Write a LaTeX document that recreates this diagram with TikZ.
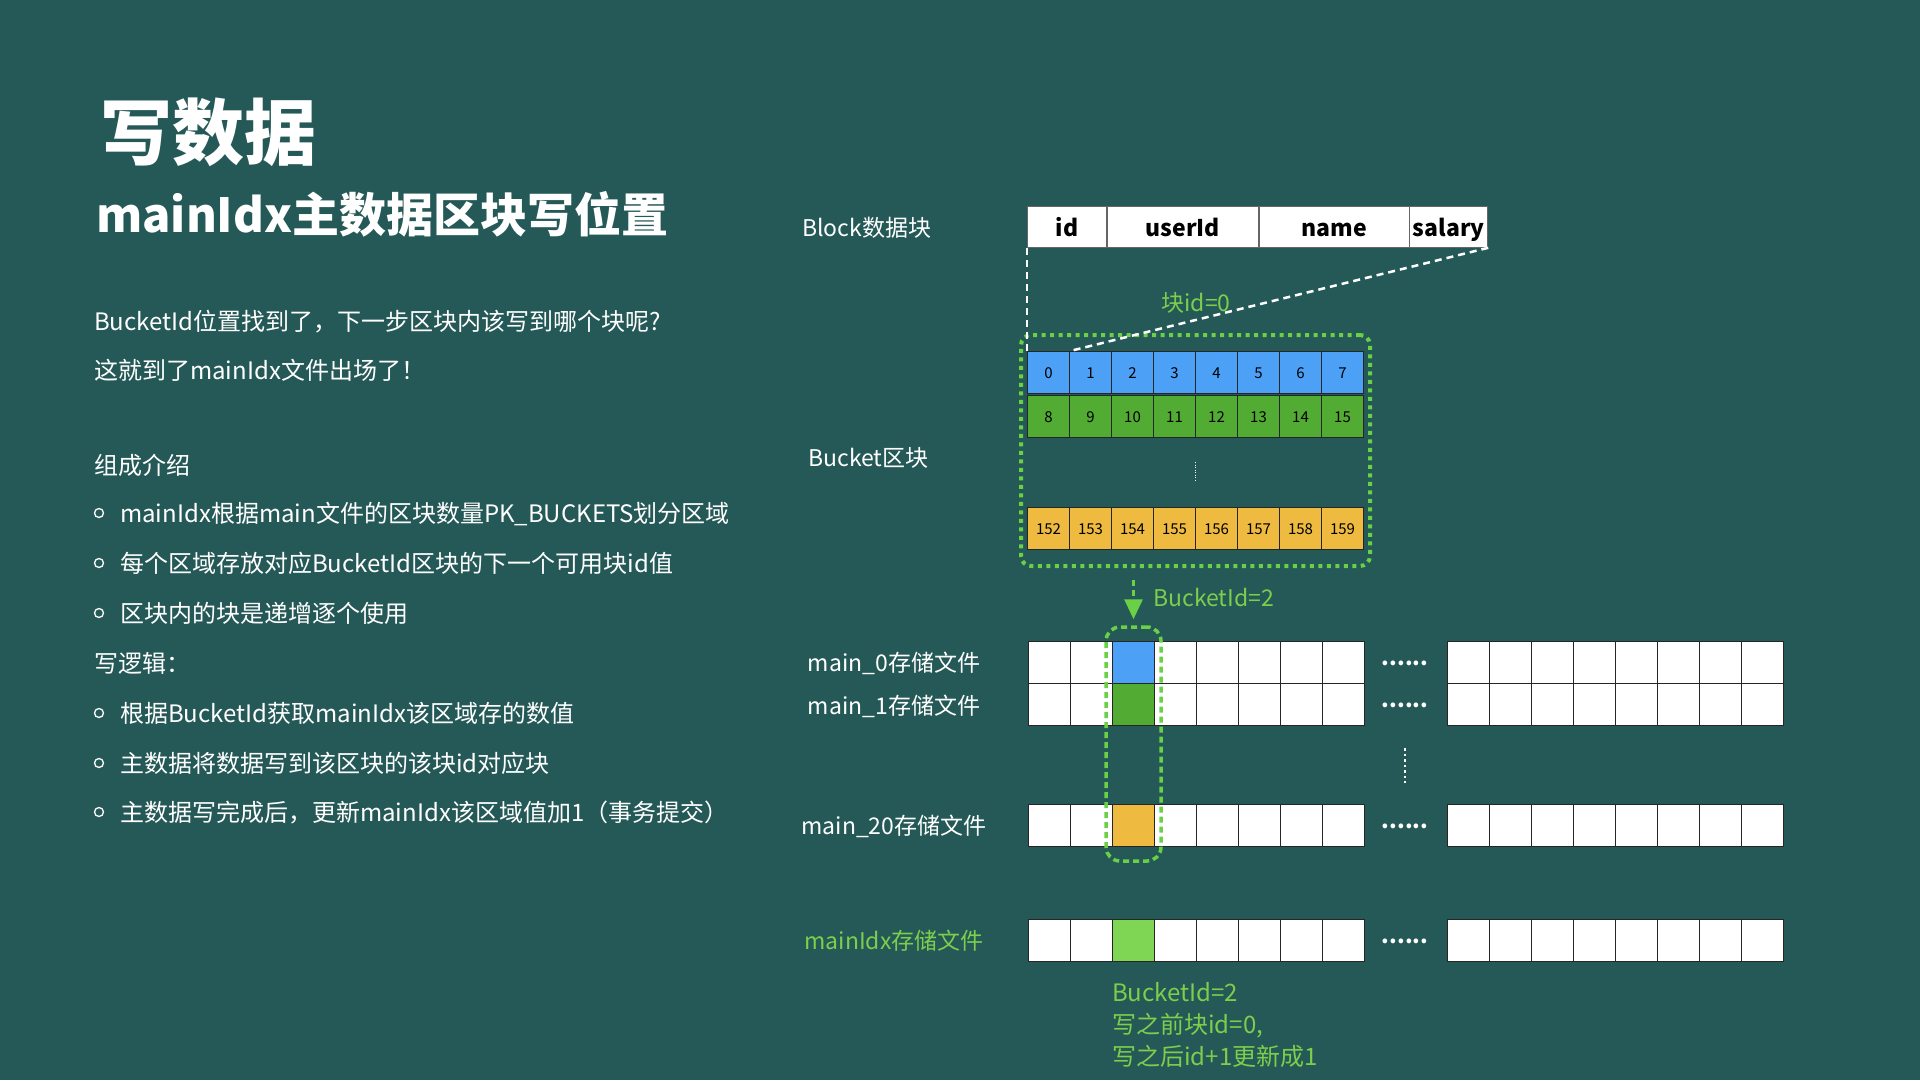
\documentclass[tikz,border=0pt]{standalone}
\usepackage{fontspec}
\setmainfont{Noto Sans CJK SC}
\usepackage{xcolor}
\usepackage{tikz}
\usetikzlibrary{calc, positioning, fit, arrows.meta}

\definecolor{bgteal}{RGB}{37,89,87}
\definecolor{cblue}{RGB}{76,160,246}
\definecolor{cgreen}{RGB}{82,171,50}
\definecolor{cyellow}{RGB}{238,186,64}
\definecolor{clight}{RGB}{126,214,84}
\definecolor{lgreen}{RGB}{124,206,76}
\definecolor{dgreen}{RGB}{106,208,70}

\begin{document}
\begin{tikzpicture}[x=1pt, y=-1pt, >={Triangle[length=20pt, width=18pt]},
    txt/.style={text=white, inner sep=0pt, anchor=base west, font=\fontsize{24}{30}\selectfont},
    lbl/.style={text=white, inner sep=0pt, anchor=base, font=\fontsize{23}{28}\selectfont},
    glbl/.style={lbl, text=lgreen},
    bulletmark/.style={draw=white, circle, line width=1.3pt, minimum size=9pt, inner sep=0pt},
    hdr/.style={draw=black!60, fill=white, line width=0.8pt, minimum height=41pt, inner sep=0pt,
        text height=20pt, text depth=1pt, font=\fontsize{23}{28}\selectfont\bfseries},
    cell/.style={draw=black!85, line width=1pt, minimum width=42pt, minimum height=42pt, inner sep=0pt,
        anchor=north west, text height=11pt, text depth=0pt, font=\fontsize{15}{18}\selectfont},
    gdots/.style={draw=dgreen, line width=4pt, dash pattern=on 4pt off 4.5pt, rounded corners=10pt, inner sep=0pt},
    gsel/.style={draw=dgreen, line width=3.5pt, dash pattern=on 6pt off 4pt, rounded corners=14pt, inner sep=0pt},
    wdash/.style={draw=white, line width=2.5pt, dash pattern=on 7pt off 5pt},
    garrow/.style={->, draw=dgreen, line width=3pt, dash pattern=on 6pt off 4pt}
]
    % 背景
    \fill[bgteal] (0,0) rectangle (1920,1080);
    \useasboundingbox (0,0) rectangle (1920,1080);

    % 标题
    \node[txt, font=\fontsize{72}{82}\selectfont\bfseries] (title) at (100,159) {写数据};
    \node[txt, font=\fontsize{47}{56}\selectfont\bfseries] (subtitle) at (96,232) {mainIdx主数据区块写位置};

    % 左侧说明
    \node[txt] (p1) at (94,330) {BucketId位置找到了，下一步区块内该写到哪个块呢?};
    \node[txt] (p2) at (94,379) {这就到了mainIdx文件出场了！};
    \node[txt] (h1) at (94,474) {组成介绍};
    \foreach \ty/\t [count=\k] in {522/{mainIdx根据main文件的区块数量PK\_BUCKETS划分区域},
        572/{每个区域存放对应BucketId区块的下一个可用块id值}, 622/{区块内的块是递增逐个使用}} {
        \node[bulletmark] (ba\k) at (99,\ty-9) {};
        \node[txt] (ta\k) at (120,\ty) {\t};
    }
    \node[txt] (h2) at (94,672) {写逻辑：};
    \foreach \ty/\t [count=\k] in {722/{根据BucketId获取mainIdx该区域存的数值},
        772/{主数据将数据写到该区块的该块id对应块}, 821/{主数据写完成后，更新mainIdx该区域值加1（事务提交）}} {
        \node[bulletmark] (bb\k) at (99,\ty-9) {};
        \node[txt] (tb\k) at (120,\ty) {\t};
    }

    % Block数据块
    \node[lbl, anchor=base west] (lblk) at (802,236) {Block数据块};
    \node[hdr, anchor=north west, minimum width=79pt] (hid) at (1027,206) {id};
    \node[hdr, minimum width=151pt, right=0pt of hid] (huid) {userId};
    \node[hdr, minimum width=150pt, right=0pt of huid] (hname) {name};
    \node[hdr, minimum width=78pt, right=0pt of hname] (hsal) {salary};

    % Bucket区块
    \node[lbl, anchor=base west] (lbkt) at (808,466) {Bucket区块};
    \foreach \i [evaluate=\i as \j using int(\i+8), evaluate=\i as \n using int(\i+152)] in {0,...,7} {
        \node[cell, fill=cblue] (b\i) at ({1027+42*\i},351) {\i};
        \node[cell, fill=cgreen] (g\i) at ({1027+42*\i},395) {\j};
        \node[cell, fill=cyellow] (y\i) at ({1027+42*\i},507) {\n};
    }
    \node[gdots, fit=(b0)(y7), inner xsep=6pt, inner ysep=16pt] (bkt) {};
    \draw[white, line width=1pt, dash pattern=on 1pt off 1.5pt] (1195,462) -- (1195,482);

    % 块id=0 对应关系
    \draw[wdash] (hid.south west) -- (b0.north west);
    \draw[wdash] (hsal.south east) -- (b0.north east);
    \node[glbl] (lblk0) at (1196,311) {块id=0};

    % 存储文件
    \foreach \r/\ty/\hc in {m0/641/cblue, m1/683/cgreen, m20/804/cyellow, mx/919/clight} {
        \foreach \i in {0,...,7} {
            \ifnum\i=2 \def\fc{\hc}\else\def\fc{white}\fi
            \node[cell, fill=\fc] (\r c\i) at ({1028+42*\i},\ty) {};
            \node[cell, fill=white] (\r d\i) at ({1447+42*\i},\ty) {};
        }
    }
    \node[lbl] (lm0) at (894,671) {main\_0存储文件};
    \node[lbl] (lm1) at (894,714) {main\_1存储文件};
    \node[lbl] (lm20) at (894,834) {main\_20存储文件};
    \node[glbl] (lmx) at (894,949) {mainIdx存储文件};
    \foreach \r/\ty in {m0/665, m1/707, m20/828, mx/943}
        \node[lbl, font=\fontsize{22}{26}\selectfont\bfseries] (dd\r) at (1405,\ty) {......};
    \draw[white, line width=2.5pt, dash pattern=on 2.5pt off 3pt] (1405,748) -- (1405,783);

    % BucketId=2 选中列
    \node[gsel, fit=(m0c2)(m20c2), inner xsep=6pt, inner ysep=14pt] (colsel) {};
    \draw[garrow] ($(colsel.north |- bkt.south)+(0,12)$) -- ($(colsel.north)+(0,-6)$);
    \node[glbl, anchor=base west] (lbid) at (1153,606) {BucketId=2};

    % mainIdx 更新说明
    \node[txt, text=lgreen] (note1) at (1112,1001) {BucketId=2};
    \node[txt, text=lgreen] (note2) at (1112,1033) {写之前块id=0,};
    \node[txt, text=lgreen] (note3) at (1112,1065) {写之后id+1更新成1};
\end{tikzpicture}
\end{document}
